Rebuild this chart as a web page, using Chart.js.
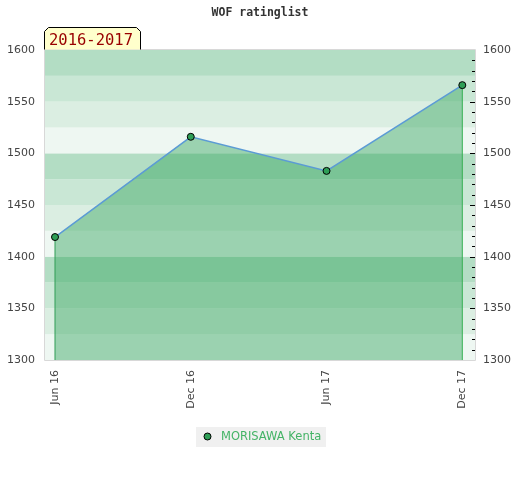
<!DOCTYPE html>
<html><head><meta charset="utf-8">
<script src="https://cdn.jsdelivr.net/npm/chart.js@4"></script>
<style>html,body{margin:0;padding:0;background:#fff}#wrap{width:520px;height:480px}</style>
</head><body><div id="wrap"><canvas id="c" width="520" height="480"></canvas></div>
<script>
const titleText = 'WOF ratinglist';
const periodLabel = '2016-2017';
const playerName = 'MORISAWA Kenta';
const monthIndex = [0, 6, 12, 18];
const dateLabels = ['Jun 16', 'Dec 16', 'Jun 17', 'Dec 17'];
const ratings = [1419, 1516, 1483, 1566];
const yMin = 1300, yMax = 1600;
const majorTicks = [1300, 1350, 1400, 1450, 1500, 1550, 1600];
const minorTicks = [];
for (let v = yMin; v <= yMax; v += 10) minorTicks.push(v);
const bandEdges = [];
for (let v = yMin; v < yMax; v += 25) bandEdges.push(v);
const bandColors = ['rgb(238,247,242)', 'rgb(219,238,226)', 'rgb(201,231,213)', 'rgb(179,221,196)'];

const FONT = 'DejaVu Sans';
const firstIdx = 0, lastIdx = ratings.length - 1;

const decor = {
  id: 'decor',
  beforeDatasetsDraw(chart) {
    const {ctx, chartArea: a, scales: {y}} = chart;
    ctx.save();
    bandEdges.forEach((v, i) => {
      const y0 = y.getPixelForValue(v), y1 = y.getPixelForValue(v + 25);
      ctx.fillStyle = bandColors[i % 4];
      ctx.fillRect(a.left, y1, a.right - a.left, y0 - y1);
    });
    ctx.restore();
  },
  afterDatasetsDraw(chart) {
    const {ctx, chartArea: a, scales: {y}} = chart;
    ctx.save();
    ctx.strokeStyle = '#000';
    ctx.lineWidth = 1;
    minorTicks.forEach(v => {
      if (v === yMin || v === yMax) return;
      const py = Math.round(y.getPixelForValue(v)) + 0.5;
      const len = v % 50 === 0 ? 5 : 3;
      ctx.beginPath();
      ctx.moveTo(a.right - 1 - len, py);
      ctx.lineTo(a.right - 1, py);
      ctx.stroke();
    });
    ctx.strokeStyle = '#d8d8d8';
    ctx.beginPath();
    ctx.moveTo(a.left - 0.5, a.top - 0.5);
    ctx.lineTo(a.right - 0.5, a.top - 0.5);
    ctx.lineTo(a.right - 0.5, a.bottom + 0.5);
    ctx.lineTo(a.left - 0.5, a.bottom + 0.5);
    ctx.closePath();
    ctx.stroke();
    ctx.restore();
  },
  afterDraw(chart) {
    const {ctx, chartArea: a} = chart;
    ctx.save();
    // title
    ctx.fillStyle = '#333';
    ctx.font = 'bold 11.5px "DejaVu Sans Mono"';
    ctx.textAlign = 'center';
    ctx.textBaseline = 'middle';
    ctx.fillText(titleText, 260, 13);
    // period box
    const bx0 = a.left - 0.5, bx1 = 140.5, by0 = 27.5, by1 = a.top - 0.5, c = 4;
    ctx.beginPath();
    ctx.moveTo(bx0, by1);
    ctx.lineTo(bx0, by0 + c);
    ctx.lineTo(bx0 + c, by0);
    ctx.lineTo(bx1 - c, by0);
    ctx.lineTo(bx1, by0 + c);
    ctx.lineTo(bx1, by1);
    ctx.fillStyle = '#ffffcc';
    ctx.fill();
    ctx.strokeStyle = '#000';
    ctx.lineWidth = 1;
    ctx.stroke();
    ctx.fillStyle = '#990000';
    ctx.font = '15.5px "DejaVu Sans Mono"';
    ctx.textAlign = 'left';
    ctx.textBaseline = 'alphabetic';
    ctx.fillText(periodLabel, 49, 45);
    // legend
    ctx.fillStyle = '#f0f0f0';
    ctx.fillRect(196, 427, 130, 20);
    ctx.beginPath();
    ctx.arc(207.5, 436.5, 3.5, 0, Math.PI * 2);
    ctx.fillStyle = '#2e9e56';
    ctx.fill();
    ctx.strokeStyle = '#000';
    ctx.stroke();
    ctx.fillStyle = '#44b366';
    ctx.font = '11.5px "' + FONT + '"';
    ctx.textBaseline = 'middle';
    ctx.fillText(playerName, 221, 437);
    ctx.restore();
  }
};

const yTickCfg = {
  color: '#444',
  font: {family: FONT, size: 11},
  autoSkip: false,
  callback: v => String(v)
};

new Chart(document.getElementById('c'), {
  type: 'line',
  data: {
    datasets: [
      {
        label: playerName,
        data: monthIndex.map((m, i) => ({x: m, y: ratings[i]})),
        borderColor: '#5b9bd5',
        borderWidth: 1.5,
        backgroundColor: 'rgba(50,165,90,0.44)',
        fill: 'start',
        tension: 0,
        pointRadius: 3.5,
        pointBackgroundColor: '#2e9e56',
        pointBorderColor: '#000',
        pointBorderWidth: 1,
        order: 0
      },
      {
        label: 'startLine',
        data: [{x: monthIndex[firstIdx], y: yMin}, {x: monthIndex[firstIdx], y: ratings[firstIdx]}],
        borderColor: '#2f9a55',
        borderWidth: 1,
        pointRadius: 0,
        fill: false,
        order: 1
      },
      {
        label: 'endLine',
        data: [{x: monthIndex[lastIdx], y: yMin}, {x: monthIndex[lastIdx], y: ratings[lastIdx]}],
        borderColor: '#33b050',
        borderWidth: 1,
        pointRadius: 0,
        fill: false,
        order: 1
      }
    ]
  },
  options: {
    responsive: false,
    animation: false,
    devicePixelRatio: 1,
    layout: {padding: {top: 50, left: 0, right: 0, bottom: 0}},
    plugins: {legend: {display: false}, title: {display: false}, tooltip: {enabled: false}},
    scales: {
      x: {
        type: 'linear',
        min: -0.442,
        max: 18.605,
        afterBuildTicks: s => { s.ticks = monthIndex.map(v => ({value: v})); },
        ticks: {
          callback: (v, i) => dateLabels[i],
          minRotation: 90, maxRotation: 90,
          padding: 10,
          color: '#444',
          font: {family: FONT, size: 11},
          autoSkip: false
        },
        grid: {display: false, drawTicks: false},
        border: {display: false},
        afterFit: s => { s.height = 120; }
      },
      y: {
        position: 'left',
        min: yMin, max: yMax,
        afterBuildTicks: s => { s.ticks = majorTicks.map(v => ({value: v})); },
        ticks: Object.assign({padding: 10}, yTickCfg),
        grid: {display: false, drawTicks: false},
        border: {display: false},
        afterFit: s => { s.width = 45; }
      },
      y2: {
        position: 'right',
        min: yMin, max: yMax,
        afterBuildTicks: s => { s.ticks = majorTicks.map(v => ({value: v})); },
        ticks: Object.assign({padding: 7}, yTickCfg),
        grid: {display: false, drawTicks: false},
        border: {display: false},
        afterFit: s => { s.width = 44; }
      }
    }
  },
  plugins: [decor]
});
</script>
</body></html>
